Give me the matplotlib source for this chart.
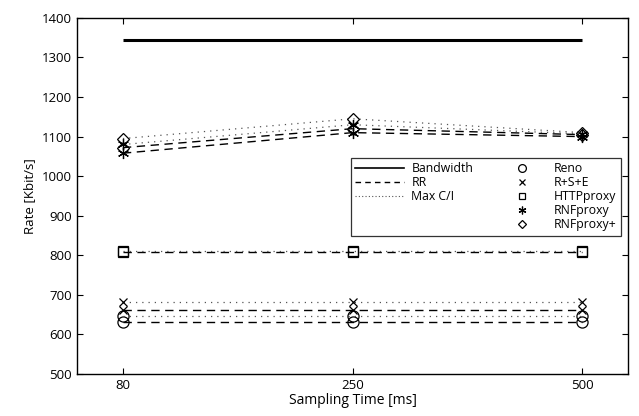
"""Rate vs. sampling time for RR and Max C/I schedulers."""

import matplotlib
matplotlib.use("Agg")
import matplotlib.pyplot as plt
from matplotlib.lines import Line2D

sampling_ms = ["80", "250", "500"]
bandwidth = [1344, 1344, 1344]

# RR scheduler (dashed)
rr_reno = [632, 632, 632]
rr_rse = [662, 662, 662]
rr_http = [809, 809, 809]
rr_rnf = [1058, 1110, 1100]
rr_rnfplus = [1072, 1120, 1105]

# Max C/I scheduler (dotted)
mc_reno = [647, 647, 647]
mc_rse = [683, 683, 683]
mc_http = [811, 811, 811]
mc_rnf = [1080, 1130, 1107]
mc_rnfplus = [1095, 1145, 1110]

protocols = ["Reno", "R+S+E", "HTTPproxy", "RNFproxy", "RNFproxy+"]
markers = ["o", "x", "s", (6, 2, 0), "D"]
msizes = [8, 6, 7, 8, 6]

plt.rcParams["font.family"] = ["Open Sans", "DejaVu Sans"]

fig = plt.figure(figsize=(6.39, 4.16), dpi=100)
ax = fig.add_axes([0.1205, 0.101, 0.8625, 0.856])
x = list(range(len(sampling_ms)))

ax.plot(x, bandwidth, color="black", lw=2.2, solid_capstyle="butt")

rr_series = [rr_reno, rr_rse, rr_http, rr_rnf, rr_rnfplus]
mc_series = [mc_reno, mc_rse, mc_http, mc_rnf, mc_rnfplus]
for vals, mk, ms in zip(rr_series, markers, msizes):
    ax.plot(x, vals, color="black", lw=1.0, ls=(0, (6, 4)), marker=mk, ms=ms,
            mfc="none", mec="black", mew=0.9)
for vals, mk, ms in zip(mc_series, markers, msizes):
    ax.plot(x, vals, color="#555555", lw=0.9, ls=(0, (1, 4)), marker=mk, ms=ms,
            mfc="none", mec="black", mew=0.9)

ax.set_xlim(-0.2, 2.2)
ax.set_ylim(500, 1400)
ax.set_xticks(x)
ax.set_xticklabels(sampling_ms)
ax.set_yticks(range(500, 1401, 100))
ax.tick_params(direction="in", top=True, right=True, labelsize=9.5, length=4, width=0.8)
for spine in ax.spines.values():
    spine.set_linewidth(1.0)
ax.set_xlabel("Sampling Time [ms]", fontsize=10, labelpad=1)
ax.set_ylabel("Rate [Kbit/s]", fontsize=9.5, labelpad=4)

blank = Line2D([], [], ls="none")
handles = [
    Line2D([], [], color="black", lw=1.2),
    Line2D([], [], color="black", lw=1.0, ls=(0, (4, 3))),
    Line2D([], [], color="#555555", lw=0.8, ls=(0, (1, 2))),
    blank, blank,
]
labels = ["Bandwidth", "RR", "Max C/I", "", ""]
for mk, ms, name in zip(markers, msizes, protocols):
    handles.append(Line2D([], [], ls="none", marker=mk, ms=ms * 0.7, mfc="none",
                          mec="black", mew=0.9))
    labels.append(name)

leg = ax.legend(handles, labels, ncol=2, loc="upper left",
                bbox_to_anchor=(0.497, 0.606), fontsize=8.8, frameon=True,
                fancybox=False, edgecolor="black", handlelength=4.0,
                columnspacing=2.0, labelspacing=0.08, borderpad=0.35,
                borderaxespad=0.0, handletextpad=0.6)
leg.get_frame().set_linewidth(0.9)

fig.savefig("out.png", dpi=100)
